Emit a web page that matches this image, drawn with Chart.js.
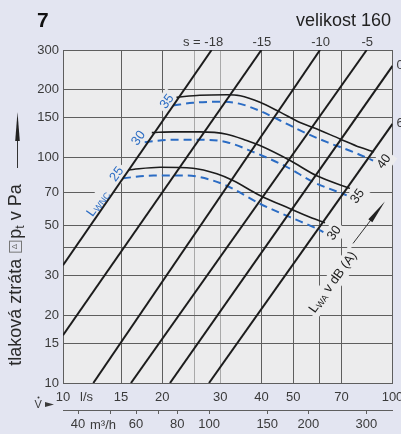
<!DOCTYPE html>
<html><head><meta charset="utf-8">
<script src="https://cdn.jsdelivr.net/npm/chart.js@4.4.1/dist/chart.umd.min.js"></script>
<style>html,body{margin:0;padding:0;background:#e3e5f1;}canvas{display:block}</style>
</head><body>
<canvas id="c" width="401" height="434"></canvas>
<script>
// ---- axis ticks ----
const flowTicks = [10, 15, 20, 25, 30, 40, 50, 60, 70, 100];
const flowTickLabels = {10:'10', 15:'15', 20:'20', 30:'30', 40:'40', 50:'50', 70:'70', 100:'100'};
const pressureTicks = [10, 15, 20, 30, 40, 50, 70, 100, 150, 200, 300];
const pressureTickLabels = {10:'10', 15:'15', 20:'20', 30:'30', 50:'50', 70:'70', 100:'100', 150:'150', 200:'200', 300:'300'};
const m3hTicks = [40, 50, 60, 70, 80, 100, 150, 200, 300];
const m3hTickLabels = {40:'40', 60:'60', 80:'80', 100:'100', 150:'150', 200:'200', 300:'300'};

// ---- damper position lines (s) : endpoints ----
const sLabels = ['-18', '-15', '-10', '-5', '0', '6'];
const sLineFlow = [[10, 28.25], [10, 40.0], [12.36, 60.26], [16.08, 83.5], [21.12, 100], [27.74, 100]];
const sLinePressure = [[33.3, 300], [16.3, 300], [10, 300], [10, 300], [10, 255], [10, 141]];

// ---- sound power curves L_WA (solid) ----
const lwaLevels = ['40', '35', '30'];
const lwa40Flow = [22.1, 26.0, 31.4, 34.5, 39.6, 45.6, 52.4, 57.4, 69.3, 79.7, 87.9];
const lwa40Pressure = [185, 189, 190, 188, 176, 159, 143, 136, 121, 111, 106];
const lwa35Flow = [18.6, 21.6, 26.0, 31.4, 36.1, 39.6, 48.9, 58.9, 74.3];
const lwa35Pressure = [129, 130, 130, 127, 119, 113, 97, 83, 73];
const lwa30Flow = [15.8, 19.7, 24.8, 29.3, 32.8, 39.6, 48.9, 56.2, 62.4];
const lwa30Pressure = [88.2, 90.6, 89.7, 84.7, 79.1, 67.9, 59.3, 54.4, 51.4];

// ---- L_WNC curves (blue dashed) ----
const lwncLevels = ['35', '30', '25'];
const lwnc35Flow = [21.6, 24.8, 30.0, 34.5, 39.6, 45.6, 52.4, 63.3, 75.9, 87.3];
const lwnc35Pressure = [170, 175, 177, 173, 161, 146, 132, 117, 106, 97];
const lwnc30Flow = [17.7, 21.6, 26.0, 31.4, 37.7, 47.7, 57.4, 72.6];
const lwnc30Pressure = [117, 120, 120, 117, 106, 91, 78, 68];
const lwnc25Flow = [15.2, 18.8, 23.7, 28.5, 32.8, 39.6, 48.9, 58.9, 61.7];
const lwnc25Pressure = [81.0, 83.2, 83.2, 79.1, 72.7, 62.4, 54.4, 48.4, 46.7];

const lwaFlow = [lwa40Flow, lwa35Flow, lwa30Flow];
const lwaPressure = [lwa40Pressure, lwa35Pressure, lwa30Pressure];
const lwncFlow = [lwnc35Flow, lwnc30Flow, lwnc25Flow];
const lwncPressure = [lwnc35Pressure, lwnc30Pressure, lwnc25Pressure];

// ---- styles ----
const BG = '#e3e5f1', PLOT = '#ececed', GRID = '#5e5e5e', GRID_LIGHT = '#a9a9a9';
const INK = '#1c1c1c', TXT = '#3a3a3a', BLUE = '#2b6cc4';
const FONT = '"Liberation Sans", Arial, Helvetica, sans-serif';
const ANG = -54 * Math.PI / 180;

const pts = (fx, py) => fx.map((v, i) => ({x: v, y: py[i]}));
const datasets = [];
sLineFlow.forEach((f, i) => datasets.push({
  data: pts(f, sLinePressure[i]), borderColor: INK, borderWidth: 2, pointRadius: 0, tension: 0
}));
lwaFlow.forEach((f, i) => datasets.push({
  data: pts(f, lwaPressure[i]), borderColor: INK, borderWidth: 1.6, pointRadius: 0, cubicInterpolationMode: 'monotone'
}));
lwncFlow.forEach((f, i) => datasets.push({
  data: pts(f, lwncPressure[i]), borderColor: BLUE, borderWidth: 2, borderDash: [8, 5], pointRadius: 0, cubicInterpolationMode: 'monotone'
}));

function measureParts(ctx, parts) {
  let w = 0;
  for (const p of parts) { ctx.font = (p.bold ? 'bold ' : '') + p.size + 'px ' + FONT; p.w = ctx.measureText(p.t).width; w += p.w; }
  return w;
}
function rotLabel(ctx, x, y, angle, parts, color, knock) {
  ctx.save();
  ctx.translate(x, y); ctx.rotate(angle);
  const w = measureParts(ctx, parts);
  if (knock) {
    ctx.fillStyle = PLOT; ctx.fillRect(-w / 2 - 3, -9, w + 6, 18);
  } else {
    ctx.fillStyle = color; ctx.textBaseline = 'middle'; ctx.textAlign = 'left';
    let cx = -w / 2;
    for (const p of parts) { ctx.font = p.size + 'px ' + FONT; ctx.fillText(p.t, cx, p.dy || 0); cx += p.w; }
  }
  ctx.restore();
}

function plotNotes(chart) {
  const xs = chart.scales.x, ys = chart.scales.y;
  const notes = [];
  lwncLevels.forEach((lv, i) => {
    notes.push({x: xs.getPixelForValue(lwncFlow[i][0]) - 6, y: ys.getPixelForValue(lwncPressure[i][0]) - 4,
      parts: [{t: lv, size: 13}], color: BLUE});
  });
  lwaLevels.forEach((lv, i) => {
    const n = lwncFlow[i].length - 1;
    notes.push({x: xs.getPixelForValue(lwncFlow[i][n]) + 11, y: ys.getPixelForValue(lwncPressure[i][n]) + 1,
      parts: [{t: lv, size: 13}], color: INK});
  });
  notes.push({x: xs.getPixelForValue(12.77), y: ys.getPixelForValue(62.6),
    parts: [{t: 'L', size: 13}, {t: 'WNC', size: 9, dy: 3}], color: BLUE});
  notes.push({x: xs.getPixelForValue(65.98), y: ys.getPixelForValue(27.98),
    parts: [{t: 'L', size: 13}, {t: 'WA', size: 9, dy: 3}, {t: ' v dB (A)', size: 13}], color: INK});
  return notes;
}

const decor = {
  id: 'decor',
  beforeDraw(chart) {
    const {ctx, chartArea: a} = chart;
    ctx.save();
    ctx.fillStyle = BG; ctx.fillRect(0, 0, chart.width, chart.height);
    ctx.fillStyle = PLOT; ctx.fillRect(a.left, a.top, a.right - a.left, a.bottom - a.top);
    ctx.restore();
  },
  beforeDatasetsDraw(chart) {
    const ctx = chart.ctx;
    for (const n of plotNotes(chart)) rotLabel(ctx, n.x, n.y, ANG, n.parts, n.color, true);
  },
  afterDraw(chart) {
    const {ctx, chartArea: a} = chart;
    const xs = chart.scales.x, ys = chart.scales.y;
    for (const n of plotNotes(chart)) rotLabel(ctx, n.x, n.y, ANG, n.parts, n.color, false);

    ctx.save();
    // arrow next to L_WA label
    const ax0 = xs.getPixelForValue(75.9), ay0 = ys.getPixelForValue(41.6);
    const ax1 = xs.getPixelForValue(94.8), ay1 = ys.getPixelForValue(63.8);
    const dx = ax1 - ax0, dy = ay1 - ay0, L = Math.hypot(dx, dy), ux = dx / L, uy = dy / L;
    ctx.strokeStyle = '#333'; ctx.lineWidth = 1;
    ctx.beginPath(); ctx.moveTo(ax0, ay0); ctx.lineTo(ax1 - ux * 20, ay1 - uy * 20); ctx.stroke();
    ctx.fillStyle = '#222';
    ctx.beginPath(); ctx.moveTo(ax1, ay1);
    ctx.lineTo(ax1 - ux * 24 - uy * 2.5, ay1 - uy * 24 + ux * 2.5);
    ctx.lineTo(ax1 - ux * 24 + uy * 2.5, ay1 - uy * 24 - ux * 2.5);
    ctx.closePath(); ctx.fill();

    // header
    ctx.fillStyle = '#111'; ctx.textAlign = 'left'; ctx.textBaseline = 'alphabetic';
    ctx.font = 'bold 21px ' + FONT; ctx.fillText('7', 37, 27);
    ctx.fillStyle = '#222'; ctx.font = '18px ' + FONT; ctx.textAlign = 'right';
    ctx.fillText('velikost 160', 391, 26);

    // s labels
    ctx.fillStyle = TXT; ctx.font = '13px ' + FONT; ctx.textBaseline = 'middle';
    sLabels.forEach((lab, i) => {
      const fEnd = sLineFlow[i][1], pEnd = sLinePressure[i][1];
      if (pEnd >= 300) {
        const px = xs.getPixelForValue(fEnd);
        if (i === 0) { ctx.textAlign = 'right'; ctx.fillText('s = ' + lab, px + 11.5, 42); }
        else { ctx.textAlign = 'center'; ctx.fillText(lab, px + 0.5, 42); }
      } else {
        ctx.textAlign = 'left'; ctx.fillText(lab, a.right + 4, ys.getPixelForValue(pEnd));
      }
    });

    // y title
    ctx.save();
    ctx.translate(16, 275); ctx.rotate(-Math.PI / 2);
    ctx.fillStyle = '#2a2a2a'; ctx.textBaseline = 'middle'; ctx.textAlign = 'left';
    const p1 = 'tlaková ztráta ', p2 = 'p', p3 = 't', p4 = ' v Pa';
    ctx.font = '18px ' + FONT;
    const w1 = ctx.measureText(p1).width, w2 = ctx.measureText(p2).width, w4 = ctx.measureText(p4).width;
    ctx.font = '12px ' + FONT; const w3 = ctx.measureText(p3).width;
    const iw = 15;
    let cx = -(w1 + iw + w2 + w3 + w4) / 2;
    ctx.font = '18px ' + FONT; ctx.fillText(p1, cx, 0); cx += w1;
    ctx.strokeStyle = '#777'; ctx.lineWidth = 1; ctx.strokeRect(cx + 1.5, -6.5, iw - 4, 12);
    ctx.font = '8px ' + FONT; ctx.fillStyle = '#666'; ctx.textAlign = 'center';
    ctx.fillText('Δ', cx + 1.5 + (iw - 4) / 2, -1); ctx.textAlign = 'left'; ctx.fillStyle = '#2a2a2a';
    cx += iw;
    ctx.font = '18px ' + FONT; ctx.fillText(p2, cx, 0); cx += w2;
    ctx.font = '12px ' + FONT; ctx.fillText(p3, cx, 5); cx += w3;
    ctx.font = '18px ' + FONT; ctx.fillText(p4, cx, 0);
    ctx.restore();
    // y arrow
    ctx.strokeStyle = '#333'; ctx.lineWidth = 1;
    ctx.beginPath(); ctx.moveTo(17.5, 168); ctx.lineTo(17.5, 138); ctx.stroke();
    ctx.fillStyle = '#222';
    ctx.beginPath(); ctx.moveTo(17.5, 112); ctx.lineTo(15.2, 141); ctx.lineTo(19.8, 141); ctx.closePath(); ctx.fill();

    // V-dot arrow and units
    ctx.fillStyle = TXT; ctx.font = '11px ' + FONT; ctx.textAlign = 'left'; ctx.textBaseline = 'alphabetic';
    ctx.fillText('V', 34.5, 408);
    ctx.beginPath(); ctx.arc(38.5, 397.5, 1, 0, Math.PI * 2); ctx.fill();
    ctx.beginPath(); ctx.moveTo(45, 402); ctx.lineTo(54, 404.5); ctx.lineTo(45, 407); ctx.closePath(); ctx.fill();
    ctx.font = '13px ' + FONT; ctx.textBaseline = 'middle';
    ctx.fillText('l/s', 80, 397);
    ctx.fillText('m³/h', 90, 425);
    ctx.restore();
  }
};

const tickFont = {family: FONT, size: 13};
new Chart(document.getElementById('c'), {
  type: 'line',
  data: {datasets},
  plugins: [decor],
  options: {
    responsive: false, animation: false, events: [],
    layout: {padding: {left: 0, right: 8.5, top: 50, bottom: 0}},
    plugins: {legend: {display: false}, tooltip: {enabled: false}},
    scales: {
      x: {
        type: 'logarithmic', position: 'bottom', weight: 0, min: 10, max: 100,
        afterBuildTicks: s => { s.ticks = flowTicks.map(v => ({value: v})); },
        afterFit: s => { s.height = 27; s.paddingLeft = 0; s.paddingRight = 0; },
        ticks: {autoSkip: false, maxRotation: 0, padding: 7, color: TXT, font: tickFont,
          callback: v => flowTickLabels[v] ?? ''},
        grid: {drawTicks: false, lineWidth: 1,
          color: c => (c.tick && (c.tick.value === 25 || c.tick.value === 30)) ? GRID_LIGHT : GRID},
        border: {color: GRID}
      },
      x2: {
        type: 'logarithmic', position: 'bottom', weight: 1, min: 36, max: 360,
        afterBuildTicks: s => { s.ticks = m3hTicks.map(v => ({value: v})); },
        afterFit: s => { s.height = 24; s.paddingLeft = 0; s.paddingRight = 0; },
        ticks: {autoSkip: false, maxRotation: 0, padding: 3, color: TXT, font: tickFont,
          callback: v => m3hTickLabels[v] ?? ''},
        grid: {drawOnChartArea: false, drawTicks: true, tickLength: 4, color: GRID},
        border: {display: true, color: GRID}
      },
      y: {
        type: 'logarithmic', position: 'left', min: 10, max: 300,
        afterBuildTicks: s => { s.ticks = pressureTicks.map(v => ({value: v})); },
        afterFit: s => { s.width = 63; },
        ticks: {autoSkip: false, padding: 4, color: TXT, font: tickFont,
          callback: v => pressureTickLabels[v] ?? ''},
        grid: {drawTicks: false, lineWidth: 1, color: GRID},
        border: {color: GRID}
      }
    }
  }
});
</script>
</body></html>
